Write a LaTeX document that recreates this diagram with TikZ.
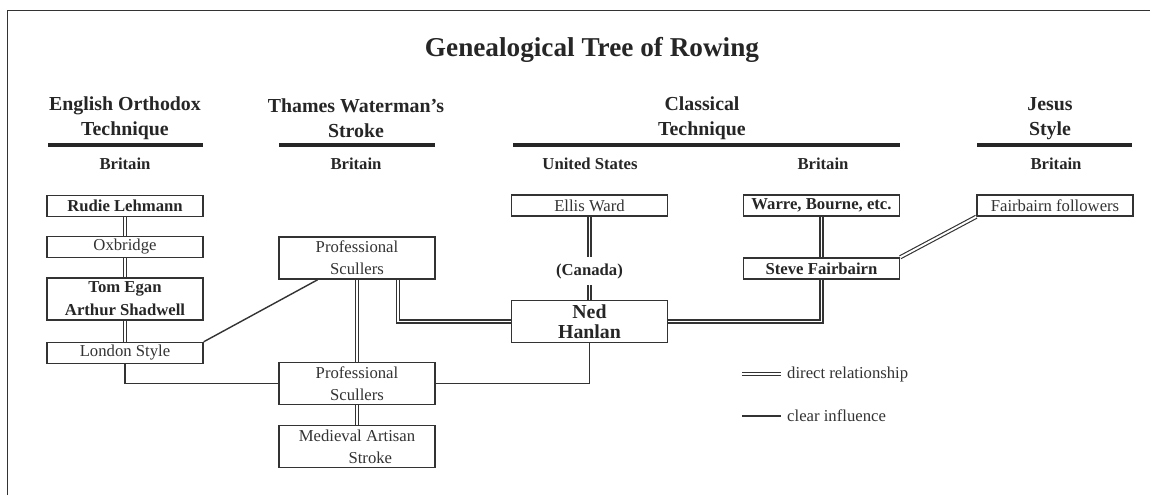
\documentclass[tikz,border=0pt]{standalone}
\usepackage{fontspec}
\setmainfont{Liberation Serif}
\usetikzlibrary{calc}
\definecolor{ink}{gray}{0.2}

\begin{document}
\begin{tikzpicture}[x=0.02cm, y=-0.02cm,
  box/.style={draw=ink, line width=0.85pt, minimum width=3.12cm, minimum height=0.42cm, inner sep=1pt, align=center, text=ink, font=\fontsize{9.5}{12.5}\selectfont},
  tall/.style={minimum height=0.84cm},
  heavy/.style={text=black!85, font=\fontsize{9.5}{13}\selectfont\bfseries},
  head/.style={align=center, text=black!85, font=\fontsize{11.3}{14.2}\selectfont\bfseries},
  place/.style={text=black!85, font=\fontsize{9.5}{11}\selectfont\bfseries},
  bar/.style={draw=black!85, line width=2.6pt},
  direct/.style={draw=black!80, double, line width=0.65pt, double distance=1.1pt},
  influence/.style={draw=black!80, line width=0.8pt}]
\useasboundingbox (0,0) rectangle (1150,495);
\draw[ink, line width=0.8pt] (7.5,495) -- (7.5,10.5) -- (1150,10.5);
\node[text=black!85, font=\fontsize{15.5}{18}\selectfont\bfseries] (title) at (592,50) {Genealogical Tree of Rowing};
% Headings
\node[head] (h1) at (125,118.5) {English Orthodox\\Technique};
\node[head] (h2) at (356,118.5) {Thames Waterman's\\Stroke};
\node[head] (h3) at (702,118.5) {Classical\\Technique};
\node[head] (h4) at (1050,118.5) {Jesus\\Style};
\draw[bar] (48,145) -- (203,145);
\draw[bar] (279,145) -- (435,145);
\draw[bar] (513,145) -- (900,145);
\draw[bar] (977,145) -- (1132,145);
\node[place] (p1) at (125,164) {Britain};
\node[place] (p2) at (356,164) {Britain};
\node[place] (p3) at (590,164) {United States};
\node[place] (p4) at (823,164) {Britain};
\node[place] (p5) at (1056,164) {Britain};
% Boxes
\node[box, heavy] (rudie) at (125,206) {Rudie Lehmann};
\node[box] (oxbridge) at (125,247) {Oxbridge};
\node[box, tall, heavy] (egan) at (125,299) {Tom Egan\\Arthur Shadwell};
\node[box] (london) at (125,353) {London Style};
\node[box, tall] (scullA) at (357,258) {Professional\\Scullers};
\node[box, tall] (scullB) at (357,383.5) {Professional\\Scullers};
\node[box, tall] (medieval) at (357,446.5) {Medieval Artisan\\\hspace*{1.6em}Stroke};
\node[box] (ellis) at (589.5,205.5) {Ellis Ward};
\node[place] (canada) at (589.5,271) {(Canada)};
\node[box, tall, heavy, font=\fontsize{11.3}{11.5}\selectfont\bfseries] (ned) at (589.5,321.5) {Ned\\Hanlan};
\node[box, heavy] (warre) at (821.5,205.5) {Warre, Bourne, etc.};
\node[box, heavy] (steve) at (821.5,268.5) {Steve Fairbairn};
\node[box] (followers) at (1055,205.5) {Fairbairn followers};
% Connectors
\draw[direct] (rudie) -- (oxbridge);
\draw[direct] (oxbridge) -- (egan);
\draw[direct] (egan) -- (london);
\draw[influence] (london.north east) -- ($(scullA.south west)!0.25!(scullA.south east)$);
\draw[influence] (london.south) |- (scullB.west);
\draw[direct] (scullA) -- (scullB);
\draw[direct] (scullB) -- (medieval);
\draw[direct] ($(scullA.south west)!0.76!(scullA.south east)$) |- (ned.west);
\draw[influence] (scullB.east) -| (ned.south);
\draw[direct] (ellis) -- (canada);
\draw[direct] (canada) -- (ned);
\draw[direct] (warre) -- (steve);
\draw[direct] (steve.south) |- (ned.east);
\draw[direct] (steve.north east) -- (followers.south west);
% Legend
\coordinate (dA) at (742,374);
\coordinate (dB) at (781,374);
\coordinate (iA) at (742,416);
\coordinate (iB) at (781,416);
\draw[direct] (dA) -- (dB);
\draw[influence] (iA) -- (iB);
\node[right, text=ink, font=\fontsize{9.5}{11}\selectfont] (dtext) at (dB) {direct relationship};
\node[right, text=ink, font=\fontsize{9.5}{11}\selectfont] (itext) at (iB) {clear influence};
\end{tikzpicture}
\end{document}
